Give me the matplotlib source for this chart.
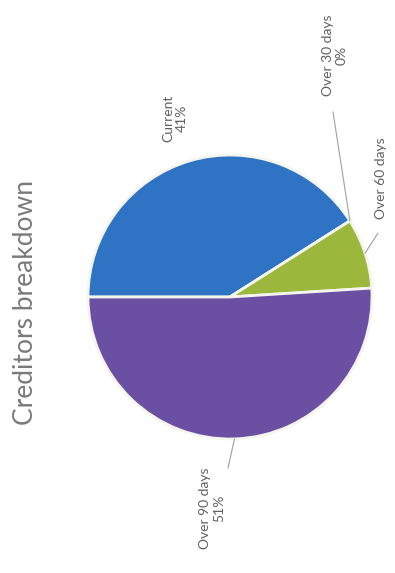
import numpy as np
import matplotlib
matplotlib.use("Agg")
import matplotlib.pyplot as plt

categories = ["Current", "Over 30 days", "Over 60 days", "Over 90 days"]
values = [41, 0, 8, 51]
pct_labels = ["41%", "0%", "", "51%"]
colors = ["#2f73c4", "#4f81bd", "#9bb83c", "#6a4fa3"]
title = "Creditors breakdown"

W, H = 395, 573
fig = plt.figure(figsize=(W / 100, H / 100), dpi=100)
fig.patch.set_facecolor("white")

cx, cy, r = 230, 297, 142
ax = fig.add_axes([(cx - r) / W, (H - cy - r) / H, 2 * r / W, 2 * r / H])
ax.axis("off")

wedges, _ = ax.pie(values, colors=colors, startangle=180, counterclock=False,
                   wedgeprops=dict(edgecolor="#f4f6ee", linewidth=2),
                   radius=1.0)
ax.set_xlim(-1, 1)
ax.set_ylim(-1, 1)

font = "Lato"
lab_color = "#606060"

def px(x, y):
    return ((x - cx) / r, (cy - y) / r)

# label positions (layout only), given in pixel positions of the picture
label_pos = [px(175, 118), px(335, 55), px(381, 178), px(212, 508)]
line_end = [None, px(333, 112), px(378, 233), px(228, 468)]

for w, name, pct, pos, le in zip(wedges, categories, pct_labels, label_pos, line_end):
    ang = np.deg2rad((w.theta1 + w.theta2) / 2)
    ex, ey = np.cos(ang), np.sin(ang)
    if le is not None:
        ax.annotate("", xy=(ex, ey), xytext=le,
                    arrowprops=dict(arrowstyle="-", color="#a0a0a0", lw=0.8,
                                    shrinkA=0, shrinkB=0),
                    annotation_clip=False)
    txt = f"{name}\n{pct}" if pct else name
    ax.text(pos[0], pos[1], txt, rotation=90, ha="center", va="center",
            fontsize=10, color=lab_color, family=[font, "DejaVu Sans"],
            multialignment="center", linespacing=1.2, clip_on=False)

fig.text(26 / W, 1 - 303 / H, title, rotation=90, ha="center", va="center",
         fontsize=19, color="#7a7a7a", family=[font, "DejaVu Sans"])

fig.savefig("out.png", dpi=100, facecolor="white")
